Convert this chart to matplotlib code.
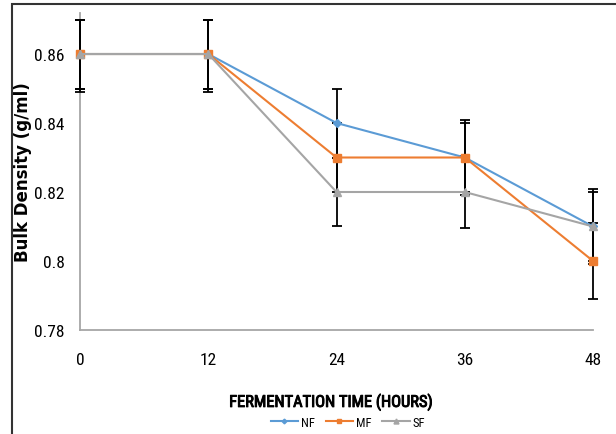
import matplotlib.pyplot as plt
from matplotlib import font_manager
from matplotlib.font_manager import FontProperties
from matplotlib.patches import Rectangle
import matplotlib.patheffects as pe

# fermentation time (hours)
hours = [0, 12, 24, 36, 48]

# bulk density (g/ml) per sample
nf = [0.86, 0.86, 0.84, 0.83, 0.81]
mf = [0.86, 0.86, 0.83, 0.83, 0.80]
sf = [0.86, 0.86, 0.82, 0.82, 0.81]

# error bars (lower, upper)
nf_lo = [0.010, 0.010, 0.010, 0.011, 0.010]
nf_hi = [0.010, 0.010, 0.010, 0.011, 0.010]
mf_lo = [0.011, 0.011, 0.010, 0.010, 0.011]
mf_hi = [0.010, 0.010, 0.010, 0.010, 0.011]
sf_lo = [0.010, 0.010, 0.010, 0.0105, 0.011]
sf_hi = [0.010, 0.010, 0.010, 0.0105, 0.011]

# look for a narrow font (Calibri-like look in the original)
narrow_file = None
for f in font_manager.fontManager.ttflist:
    nm = (f.name + ' ' + f.fname).lower()
    if ('narrow' in nm or 'condensed' in nm) and f.weight in (400, 'normal') \
            and f.style == 'normal' and 'semi' not in nm and 'extra' not in nm:
        narrow_file = f.fname
        if 'liberation' in nm:
            break


def nprop(size):
    if narrow_file:
        return FontProperties(fname=narrow_file, size=size)
    return FontProperties(family='DejaVu Sans', size=size * 0.88)


fig = plt.figure(figsize=(6.16, 4.35), dpi=100)
ax = fig.add_axes([0.1299, 0.2391, 0.8328, 0.7296])

# outer frame (left and top visible)
fig.patches.append(Rectangle((12/616, -0.1), 1.2, 1 - 5/435 + 0.1,
                             transform=fig.transFigure, fill=False,
                             edgecolor='#333333', linewidth=1.5))

series = [
    ('NF', nf, nf_lo, nf_hi, '#5B9BD5', 'D', 4),
    ('MF', mf, mf_lo, mf_hi, '#ED7D31', 's', 6),
    ('SF', sf, sf_lo, sf_hi, '#A5A5A5', '^', 6),
]

handles = []
for name, vals, lo, hi, col, mk, ms in series:
    c = ax.errorbar(hours, vals, yerr=[lo, hi], color=col, marker=mk,
                    markersize=ms, linewidth=1.5, ecolor='black',
                    elinewidth=1.3, capsize=3.5, capthick=1.3, label=name,
                    clip_on=False, zorder=3)
    for art in c.lines[1] + c.lines[2]:
        art.set_clip_on(False)
    handles.append(c.lines[0])

ax.set_xlim(0, 48)
ax.set_ylim(0.78, 0.872)
ax.set_xticks(hours)
ax.set_yticks([0.78, 0.80, 0.82, 0.84, 0.86])
ax.set_yticklabels(['0.78', '0.8', '0.82', '0.84', '0.86'])
ax.tick_params(length=0)
ax.tick_params(axis='y', pad=11)
ax.tick_params(axis='x', pad=16)
for lab in ax.get_xticklabels() + ax.get_yticklabels():
    lab.set_fontproperties(nprop(12.5))

for s in ['top', 'right']:
    ax.spines[s].set_visible(False)
for s in ['left', 'bottom']:
    ax.spines[s].set_color('#A6A6A6')
    ax.spines[s].set_linewidth(1.3)

xl = ax.set_xlabel('FERMENTATION TIME (HOURS)', fontproperties=nprop(11.8))
xl.set_path_effects([pe.withStroke(linewidth=0.7, foreground='black')])
ax.xaxis.set_label_coords(0.489, -0.2)
ax.set_ylabel('Bulk Density (g/ml)', fontweight='bold', fontsize=12)
ax.yaxis.set_label_coords(-0.0935, 0.5)

ax.legend(handles, ['NF', 'MF', 'SF'], loc='center',
          bbox_to_anchor=(0.522, -0.29), ncol=3, frameon=False,
          prop=nprop(9), handlelength=2.2, columnspacing=0.9,
          handletextpad=0.2, markerscale=0.6)

fig.savefig('out.png', dpi=100)
